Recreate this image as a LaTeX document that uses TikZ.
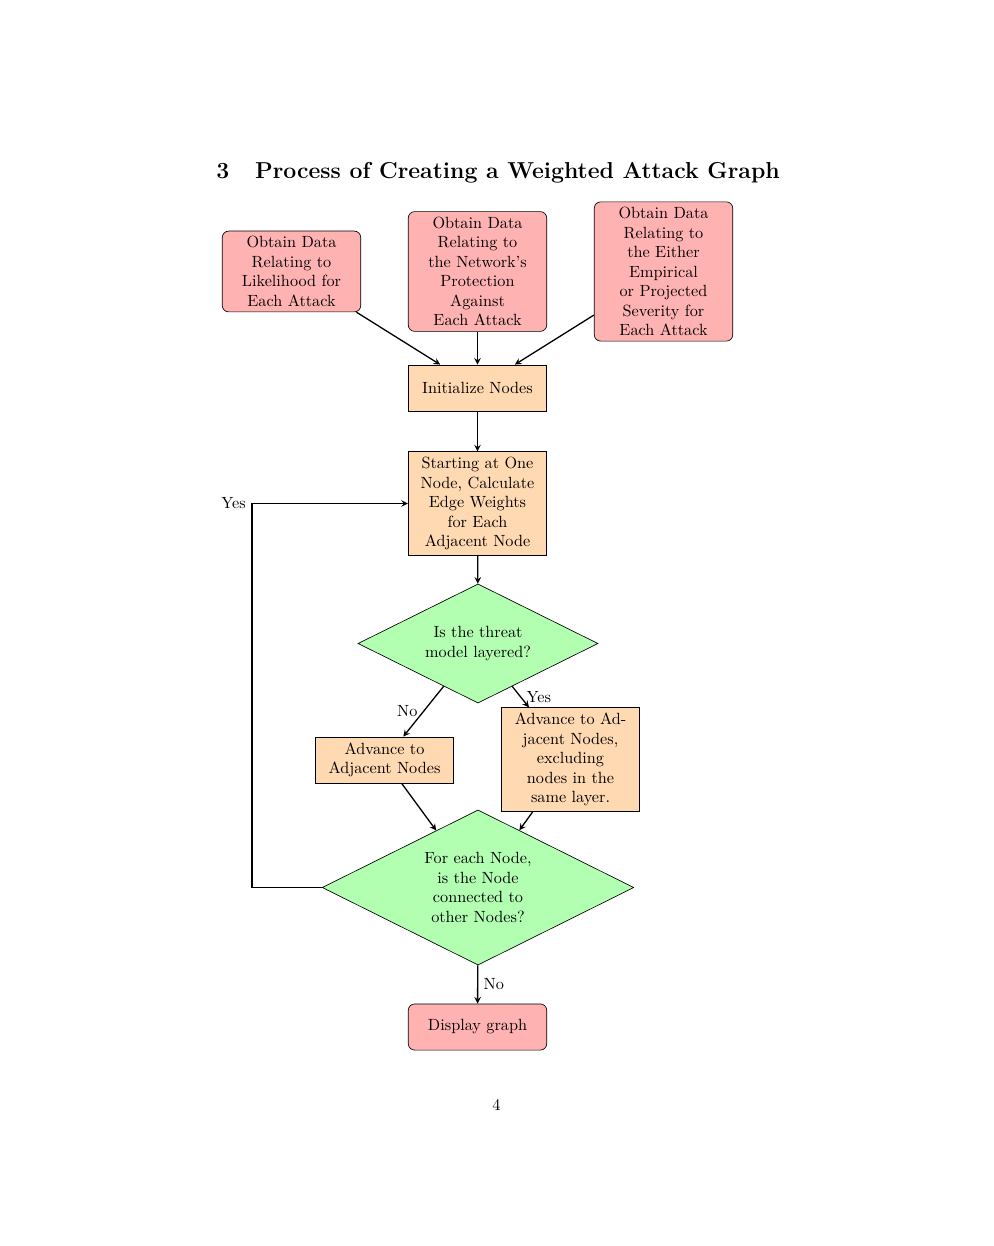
\documentclass[tikz,border=0pt]{standalone}
\usetikzlibrary{shapes.geometric,arrows}

\tikzset{
    startstop/.style={rectangle, rounded corners, minimum width=3cm, minimum height=1cm,
        text width=2.6cm, align=center, draw=black, fill=red!30},
    process/.style={rectangle, minimum width=3cm, minimum height=1cm,
        text width=2.6cm, align=center, draw=black, fill=orange!30},
    decision/.style={diamond, shape aspect=2, inner sep=0pt, align=center, draw=black, fill=green!30},
    arrow/.style={thick,->,>=stealth}
}

\begin{document}
\begin{tikzpicture}[x=0.6163pt,y=-0.6163pt]
    \useasboundingbox (0,0) rectangle (993,1246);

    \node[anchor=base west, inner sep=0pt] (title) at (216,179)
        {\fontsize{14.2pt}{17pt}\selectfont\bfseries 3\hspace{1.12em}Process of Creating a Weighted Attack Graph};

    \node (obtaina) [startstop] at (291.5,271.5) {Obtain Data\\Relating to\\Likelihood for\\Each Attack};
    \node (obtainb) [startstop] at (477.5,271.5) {Obtain Data\\Relating to\\the Network's\\Protection\\Against\\Each Attack};
    \node (obtainc) [startstop] at (663.5,271.5) {Obtain Data\\Relating to\\the Either\\Empirical\\or Projected\\Severity for\\Each Attack};
    \node (init) [process] at (477.5,388) {Initialize Nodes};
    \node (start) [process] at (477.5,503.5) {Starting at One\\Node, Calculate\\Edge Weights\\for Each\\Adjacent Node};
    \node (layered) [decision, minimum width=5.2cm, minimum height=2.58cm] at (478,643.5)
        {Is the threat\\model layered?};
    \node (advall) [process] at (384.5,760) {Advance to\\Adjacent Nodes};
    \node (advlayer) [process] at (570.5,759.5) {Advance to Ad-\\jacent Nodes,\\excluding\\nodes in the\\same layer.};
    \node (connected) [decision, minimum width=6.75cm, minimum height=3.36cm] at (478,887.5)
        {For each Node,\\is the Node\\connected to\\other Nodes?};
    \node (display) [startstop] at (477.5,1027) {Display graph};

    \node[anchor=base] (pagenum) at (496.5,1110) {4};

    \draw [arrow] (obtaina) -- (init);
    \draw [arrow] (obtainb) -- (init);
    \draw [arrow] (obtainc) -- (init);
    \draw [arrow] (init) -- (start);
    \draw [arrow] (start) -- (layered);
    \draw [arrow] (layered) -- node[anchor=east] {No} (advall);
    \draw [arrow] (layered) -- node[anchor=west] {Yes} (advlayer);
    \draw [arrow] (advall) -- (connected);
    \draw [arrow] (advlayer) -- (connected);
    \draw [arrow] (connected) -- node[anchor=west] {No} (display);
    \draw [arrow] (connected.west) -- ++(-70,0) |- node[anchor=east] {Yes} (start.west);
\end{tikzpicture}
\end{document}
